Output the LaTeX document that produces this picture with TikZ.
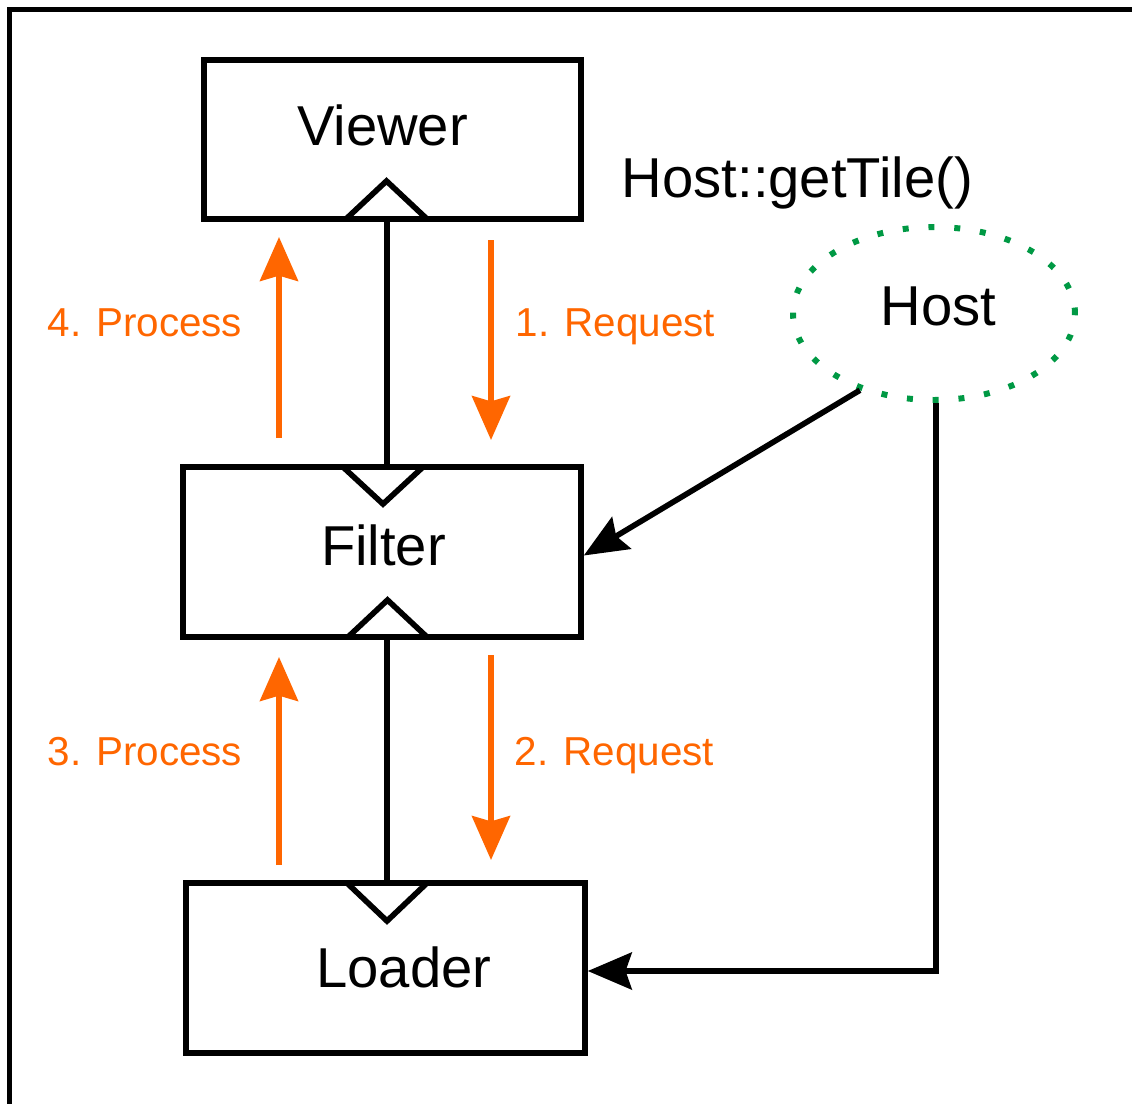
\documentclass[tikz,border=0pt]{standalone}
\usepackage{fontspec}
\setmainfont{Liberation Sans}
\usetikzlibrary{arrows.meta,shapes.geometric,positioning}
\definecolor{flow}{RGB}{255,102,0}
\definecolor{hostgreen}{RGB}{0,153,68}

\begin{document}
\begin{tikzpicture}[x=0.02cm,y=-0.02cm,line width=3.2pt,
  box/.style={draw,rectangle,inner sep=0pt},
  big/.style={font=\fontsize{32}{38}\selectfont,inner sep=0pt,anchor=base},
  note/.style={font=\fontsize{23}{28}\selectfont,text=flow,inner sep=0pt},
  req/.style={draw=flow,-{Stealth[length=25pt,width=21.6pt,inset=3pt]}},
  link/.style={draw,-{Stealth[length=25pt,width=21pt,inset=3.5pt]}},
  tri/.style={draw,line join=miter}]
\useasboundingbox (0,0) rectangle (1132,1103);
\draw (9.5,1120) |- (1150,9.5);

\node[box,minimum width=7.54cm,minimum height=3.18cm] (viewer) at (392.5,139.5) {};
\node[box,minimum width=7.96cm,minimum height=3.4cm] (filter) at (382,552) {};
\node[box,minimum width=7.98cm,minimum height=3.4cm] (loader) at (385.5,968) {};
\node[draw=hostgreen,ellipse,line width=3.4pt,dash pattern=on 3.4pt off 11.3pt,
  minimum width=5.64cm,minimum height=3.46cm,inner sep=0pt] (host) at (934,313.5) {};

\node[big] (vt) at (382.5,145) {Viewer};
\node[big] (ft) at (383.5,565) {Filter};
\node[big] (lt) at (404,987) {Loader};
\node[big] (ht) at (938.5,325) {Host};
\node[big,anchor=base west] (call) at (619,197) {Host::getTile()};

\coordinate (axis) at (387,0);
\draw (viewer.south -| axis) -- (filter.north -| axis);
\draw (filter.south -| axis) -- (loader.north -| axis);
\draw[tri] (346,219) -- (386.5,181) -- (427,219);
\draw[tri] (343,467) -- (383,504) -- (423,467);
\draw[tri] (348,637) -- (387.5,600) -- (427,637);
\draw[tri] (347,883) -- (387,921) -- (427,883);

\coordinate (r1a) at (491,240);
\coordinate (r1b) at (491,440);
\coordinate (r2a) at (491,655);
\coordinate (r2b) at (491,860);
\coordinate (p4a) at (279,438);
\coordinate (p4b) at (279,237);
\coordinate (p3a) at (279,865);
\coordinate (p3b) at (279,657);
\draw[req] (r1a) -- (r1b);
\draw[req] (r2a) -- (r2b);
\draw[req] (p4a) -- (p4b);
\draw[req] (p3a) -- (p3b);

\node[note,anchor=base west] (r1) at (513,336) {1. Request};
\node[note,anchor=base west] (r2) at (512,765) {2. Request};
\node[note,anchor=base east] (p4) at (245,336) {4. Process};
\node[note,anchor=base east] (p3) at (245,765) {3. Process};

\coordinate (drop) at (936,0);
\draw[link] (host.226) -- ([yshift=-2pt]filter.east);
\draw[link] (host.south -| drop) |- ([yshift=-1.7pt]loader.east);
\end{tikzpicture}
\end{document}
